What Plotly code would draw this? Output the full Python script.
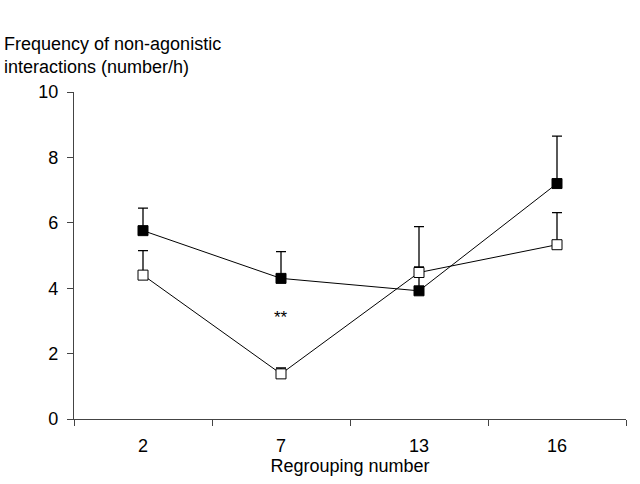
import plotly.graph_objects as go

categories = ["2", "7", "13", "16"]
filled_mean = [5.76, 4.30, 3.92, 7.20]
filled_err = [0.69, 0.82, 0.73, 1.45]
open_mean = [4.40, 1.38, 4.48, 5.33]
open_err = [0.75, 0.18, 1.40, 0.98]
sig_category = "7"
sig_label = "**"
sig_y = 3.1

font_family = "Liberation Sans, Arial, sans-serif"

fig = go.Figure()
fig.add_trace(go.Scatter(
    x=categories, y=filled_mean, mode="lines+markers",
    line=dict(color="black", width=1),
    marker=dict(symbol="square", size=10, color="black", line=dict(color="black", width=1)),
    error_y=dict(type="data", array=filled_err, arrayminus=[0]*4, color="black", thickness=1.3, width=5),
    showlegend=False,
))
fig.add_trace(go.Scatter(
    x=categories, y=open_mean, mode="lines+markers",
    line=dict(color="black", width=1),
    marker=dict(symbol="square", size=10, color="white", line=dict(color="black", width=1)),
    error_y=dict(type="data", array=open_err, arrayminus=[0]*4, color="black", thickness=1.3, width=5),
    showlegend=False,
))

fig.add_annotation(x=categories.index(sig_category), y=sig_y, text=sig_label, showarrow=False,
                   font=dict(size=17, color="black", family=font_family))
fig.add_annotation(
    xref="paper", yref="paper", x=(2 - 74) / 552, y=(419 - 32) / 327,
    xanchor="left", yanchor="top", align="left", showarrow=False,
    text="Frequency of non-agonistic<br>interactions (number/h)",
    font=dict(size=18, color="black", family=font_family),
)

fig.update_layout(
    width=640, height=484,
    margin=dict(l=74, r=14, t=92, b=65),
    plot_bgcolor="white", paper_bgcolor="white",
    font=dict(family=font_family, size=18, color="black"),
    xaxis=dict(
        type="category", range=[-0.5, 3.5], tickson="boundaries",
        showline=True, linecolor="#444", linewidth=1.3,
        ticks="outside", ticklen=6, tickcolor="#444", tickwidth=1.3,
        ticklabelstandoff=10,
        showgrid=False, zeroline=False,
        tickfont=dict(size=18),
        title=dict(text="Regrouping number", standoff=0, font=dict(size=18)),
    ),
    yaxis=dict(
        range=[0, 10], tickvals=[0, 2, 4, 6, 8, 10],
        showline=True, linecolor="#444", linewidth=1.3,
        ticks="outside", ticklen=6, tickcolor="#444", tickwidth=1.3,
        ticklabelstandoff=5,
        tickfont=dict(size=18),
        showgrid=False, zeroline=False,
    ),
)

fig.write_html("out.html")
